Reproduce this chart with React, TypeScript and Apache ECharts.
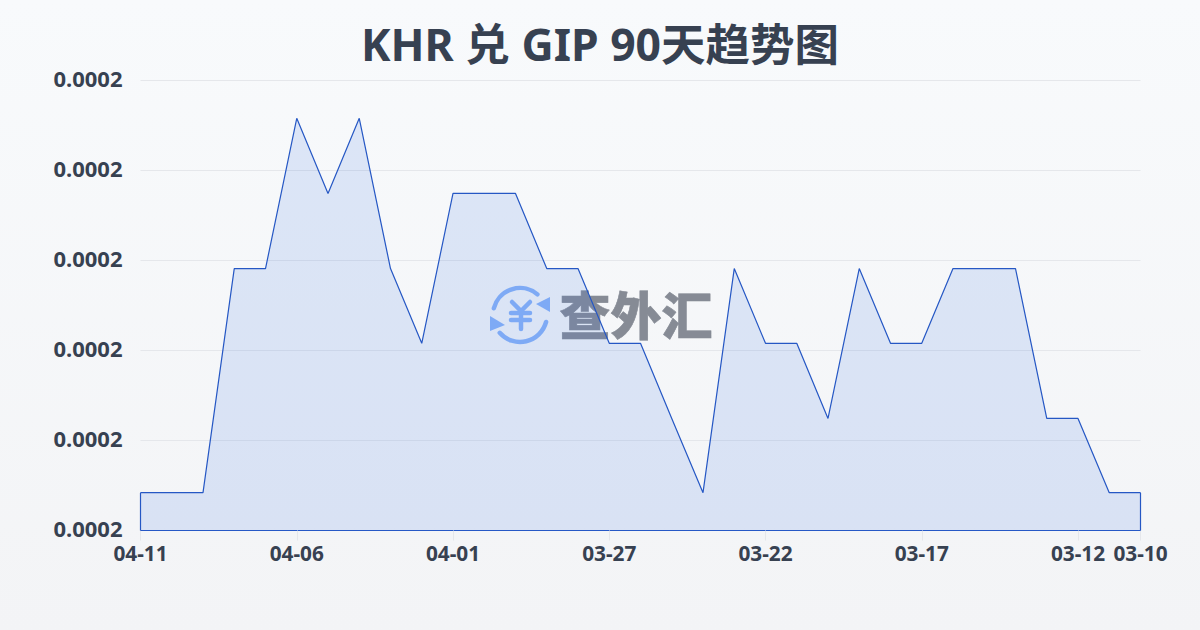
import React, { useEffect, useRef } from "react";
import * as echarts from "echarts";

const titleText = "KHR 兑 GIP 90天趋势图";
const dates = [
  "04-11","04-10","04-09","04-08","04-07","04-06","04-05","04-04","04-03","04-02","04-01",
  "03-31","03-30","03-29","03-28","03-27","03-26","03-25","03-24","03-23","03-22","03-21",
  "03-20","03-19","03-18","03-17","03-16","03-15","03-14","03-13","03-12","03-11","03-10",
];
const rates = [
  0.00019084,0.00019084,0.00019084,0.00019582,0.00019582,0.00019916,0.00019749,0.00019916,0.00019582,0.00019416,0.00019749,
  0.00019749,0.00019749,0.00019582,0.00019582,0.00019416,0.00019416,0.00019249,0.00019084,0.00019582,0.00019416,0.00019416,
  0.00019249,0.00019582,0.00019416,0.00019416,0.00019582,0.00019582,0.00019582,0.00019249,0.00019249,0.00019084,0.00019084,
];
const yMin = 0.00019;
const yMax = 0.0002;
const yStep = 0.000002;
const FONT = '"Noto Sans","Noto Sans CJK SC",sans-serif';
const TEXT = "#374151";
const BLUE = "#2557c4";
const LOGO = "#8ab4f8";
const LOGO_ROUND = { stroke: LOGO, lineWidth: 4.5, lineCap: "round" };

export default function App() {
  const ref = useRef<HTMLDivElement>(null);
  useEffect(() => {
    document.body.style.margin = "0";
    const chart = echarts.init(ref.current!, undefined, { renderer: "svg" });
    chart.setOption({
      animation: false,
      backgroundColor: new echarts.graphic.LinearGradient(0, 0, 0, 1, [
        { offset: 0, color: "#f8fafc" },
        { offset: 1, color: "#f3f4f6" },
      ]),
      title: {
        text: titleText,
        left: 356,
        top: 16,
        textStyle: { fontFamily: FONT, fontSize: 44.5, fontWeight: 700, color: "#374151" },
      },
      grid: { left: 140.5, right: 59.5, top: 80.5, bottom: 99.5 },
      xAxis: {
        type: "category",
        boundaryGap: false,
        data: dates,
        axisLine: { show: true, lineStyle: { color: BLUE, width: 1 } },
        axisTick: {
          show: true,
          length: 10,
          lineStyle: { color: "#e5e7eb" },
          interval: (i: number) => i % 5 === 0 || i === dates.length - 1,
        },
        axisLabel: {
          interval: (i: number) => i % 5 === 0 || i === dates.length - 1,
          fontFamily: FONT,
          fontSize: 20.8,
          fontWeight: 700,
          color: TEXT,
          margin: 12,
        },
        splitLine: { show: false },
      },
      yAxis: {
        type: "value",
        min: yMin,
        max: yMax,
        interval: yStep,
        axisLine: { show: false },
        axisTick: { show: false },
        axisLabel: {
          formatter: (v: number) => v.toFixed(4),
          fontFamily: FONT,
          fontSize: 22,
          fontWeight: 700,
          color: TEXT,
          margin: 18,
          verticalAlign: "bottom",
          lineHeight: 22,
          padding: [0, 0, -8, 0],
        },
        splitLine: { show: true, lineStyle: { color: "#e5e7eb", width: 1 } },
      },
      graphic: [
        {
          type: "group",
          z: 1,
          silent: true,
          children: [
            { type: "arc", shape: { cx: 520, cy: 315, r: 27, startAngle: -2.89, endAngle: -0.87 }, style: { ...LOGO_ROUND, fill: "none" } },
            { type: "arc", shape: { cx: 520, cy: 315, r: 27, startAngle: 0.26, endAngle: 2.42 }, style: { ...LOGO_ROUND, fill: "none" } },
            { type: "polygon", shape: { points: [[550, 297], [550, 312], [536, 304]] }, style: { fill: LOGO } },
            { type: "polygon", shape: { points: [[490, 316], [490, 331], [505, 325]] }, style: { fill: LOGO } },
            { type: "polyline", shape: { points: [[512, 302], [521, 311], [530, 302]] }, style: { ...LOGO_ROUND, fill: "none" } },
            { type: "line", shape: { x1: 511, y1: 313, x2: 530, y2: 313 }, style: LOGO_ROUND },
            { type: "line", shape: { x1: 511, y1: 320, x2: 530, y2: 320 }, style: LOGO_ROUND },
            { type: "line", shape: { x1: 521, y1: 311, x2: 521, y2: 329 }, style: LOGO_ROUND },
            { type: "text", x: 636, y: 315, style: { text: "查外汇", fontFamily: FONT, fontSize: 51, fontWeight: 900, fill: "#868b95", stroke: "#868b95", lineWidth: 0.6, align: "center", verticalAlign: "middle" } },
          ],
        },
      ],
      series: [
        {
          type: "line",
          data: rates,
          symbol: "none",
          smooth: false,
          z: 3,
          lineStyle: { color: BLUE, width: 1.2 },
          areaStyle: { color: "rgba(60,110,225,0.2)" },
          markLine: {
            silent: true,
            symbol: "none",
            label: { show: false },
            lineStyle: { color: BLUE, width: 1.2, type: "solid" },
            data: [
              [{ coord: [0, rates[0]] }, { coord: [0, yMin] }],
              [{ coord: [dates.length - 1, rates[rates.length - 1]] }, { coord: [dates.length - 1, yMin] }],
            ],
          },
        },
      ],
    });
    return () => chart.dispose();
  }, []);
  return <div ref={ref} style={{ width: 1200, height: 630 }} />;
}
